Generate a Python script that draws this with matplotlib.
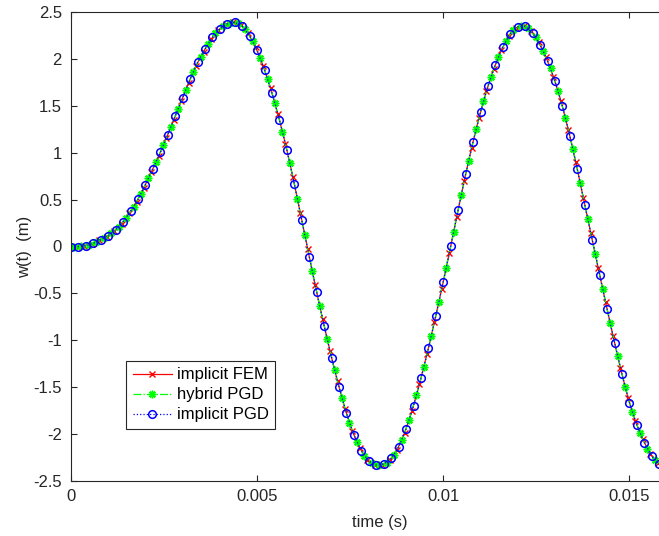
import numpy as np
import matplotlib
matplotlib.use('Agg')
import matplotlib.pyplot as plt

plt.rcParams['font.family'] = ['Liberation Sans', 'DejaVu Sans']
plt.rcParams['axes.unicode_minus'] = False

# time step of the samples shown as markers
dt = 0.0002

# implicit PGD (blue circles), t = k*dt
w_pgd = [0.000, 0.000, 0.008, 0.035, 0.074, 0.116, 0.180, 0.264, 0.376, 0.502,
         0.660, 0.830, 1.003, 1.193, 1.390, 1.588, 1.783, 1.962, 2.105, 2.230,
         2.322, 2.375, 2.390, 2.348, 2.247, 2.090, 1.884, 1.635, 1.349, 1.028,
         0.667, 0.278, -0.107, -0.489, -0.846, -1.185, -1.499, -1.780, -2.013, -2.180,
         -2.290, -2.330, -2.320, -2.260, -2.138, -1.945, -1.699, -1.406, -1.085, -0.739,
         -0.375, 0.003, 0.391, 0.771, 1.117, 1.435, 1.710, 1.940, 2.130, 2.270,
         2.342, 2.348, 2.277, 2.152, 1.980, 1.763, 1.496, 1.178, 0.824, 0.446,
         0.072, -0.300, -0.667, -1.024, -1.363, -1.667, -1.906, -2.091, -2.235, -2.320]

# hybrid PGD (green stars), t = (k+0.4)*dt
w_hyb = [0.000, 0.002, 0.017, 0.051, 0.088, 0.139, 0.210, 0.307, 0.422, 0.564,
         0.728, 0.897, 1.078, 1.272, 1.469, 1.668, 1.859, 2.021, 2.159, 2.272,
         2.348, 2.388, 2.380, 2.315, 2.190, 2.013, 1.788, 1.525, 1.226, 0.887,
         0.511, 0.124, -0.263, -0.634, -0.985, -1.315, -1.617, -1.881, -2.087, -2.232,
         -2.312, -2.332, -2.303, -2.220, -2.067, -1.853, -1.585, -1.281, -0.949, -0.595,
         -0.225, 0.159, 0.547, 0.912, 1.249, 1.550, 1.807, 2.022, 2.194, 2.307,
         2.353, 2.326, 2.233, 2.088, 1.899, 1.662, 1.373, 1.039, 0.673, 0.296,
         -0.078, -0.448, -0.812, -1.164, -1.493, -1.769, -1.985, -2.156, -2.275]

# implicit FEM (red crosses), t = (k+0.8)*dt
w_fem = [0.000, 0.005, 0.029, 0.066, 0.106, 0.166, 0.245, 0.353, 0.474, 0.627,
         0.796, 0.967, 1.154, 1.351, 1.548, 1.745, 1.929, 2.078, 2.208, 2.307,
         2.367, 2.392, 2.361, 2.272, 2.125, 1.928, 1.688, 1.409, 1.095, 0.741,
         0.356, -0.030, -0.415, -0.776, -1.119, -1.439, -1.728, -1.971, -2.151, -2.274,
         -2.326, -2.326, -2.277, -2.168, -1.988, -1.752, -1.467, -1.151, -0.809, -0.449,
         -0.074, 0.314, 0.698, 1.050, 1.374, 1.659, 1.897, 2.096, 2.247, 2.333,
         2.353, 2.295, 2.181, 2.018, 1.810, 1.553, 1.245, 0.897, 0.522, 0.147,
         -0.226, -0.595, -0.954, -1.298, -1.611, -1.862, -2.057, -2.211, -2.307]

t_pgd = np.arange(len(w_pgd)) * dt
t_hyb = (np.arange(len(w_hyb)) + 0.4) * dt
t_fem = (np.arange(len(w_fem)) + 0.8) * dt

fig = plt.figure(figsize=(6.59, 5.36), dpi=100)
ax = fig.add_axes([71 / 659, 55 / 536, 618 / 659, 469 / 536])

ax.plot(t_fem, w_fem, '-', color='#ff0000', lw=0.9, marker='x', ms=3.8, mew=1.0,
        label='implicit FEM')
ax.plot(t_hyb, w_hyb, '-.', color='#00ff00', lw=0.9, marker=(8, 2, 0), ms=5.5, mew=1.1,
        label='hybrid PGD')
ax.plot(t_pgd, w_pgd, ':', color='#0000ff', lw=0.9, marker='o', ms=5.5, mew=1.1,
        mfc='none', label='implicit PGD')

ax.set_xlim(0, 0.0166)
ax.set_ylim(-2.5, 2.5)
ax.set_xticks([0, 0.005, 0.01, 0.015])
ax.set_xticklabels(['0', '0.005', '0.01', '0.015'])
ax.set_yticks(np.arange(-2.5, 2.51, 0.5))
ax.set_yticklabels(['-2.5', '-2', '-1.5', '-1', '-0.5', '0', '0.5', '1', '1.5', '2', '2.5'])

grey = '#262626'
for s in ax.spines.values():
    s.set_color(grey)
    s.set_linewidth(0.8)
ax.tick_params(direction='in', length=4.5, width=0.8, colors=grey, labelsize=12,
               top=True, right=True)
ax.tick_params(axis='x', pad=6)
ax.tick_params(axis='y', pad=6.5)

ax.set_xlabel('time (s)', fontsize=12, color=grey, labelpad=8)
ax.set_ylabel('w(t)  (m)', fontsize=12, color=grey, labelpad=1)

leg = ax.legend(loc='lower left', bbox_to_anchor=(55 / 618, 52 / 469), borderaxespad=0,
                fontsize=12, numpoints=1, handlelength=2.35, handletextpad=0.3,
                labelspacing=0.3, borderpad=0.4, fancybox=False, framealpha=1)
leg.get_frame().set_edgecolor(grey)
leg.get_frame().set_linewidth(0.8)

fig.savefig('out.png', dpi=100)
